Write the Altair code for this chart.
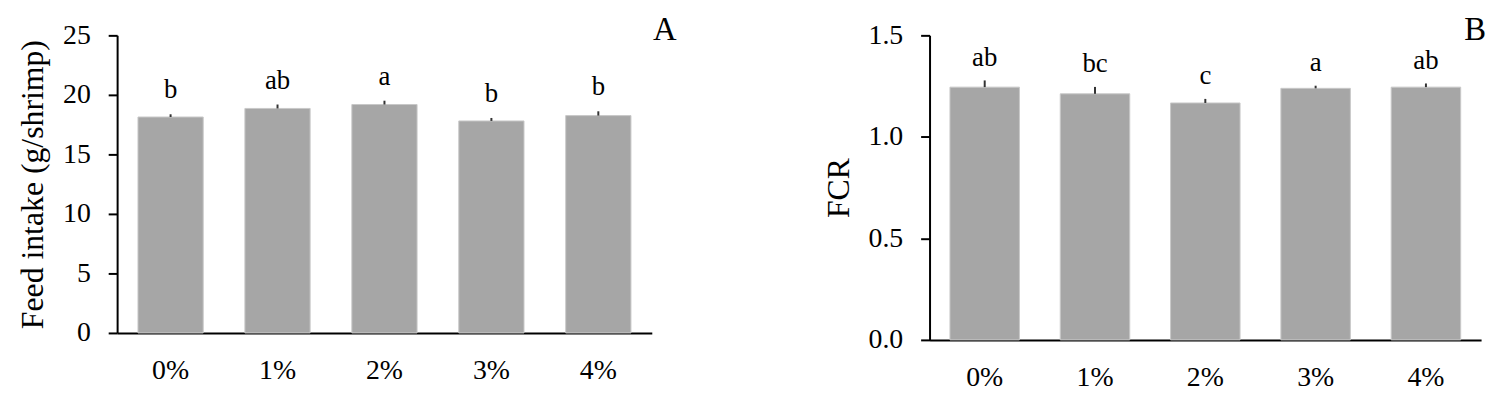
import altair as alt
import pandas as pd

levels = ["0%", "1%", "2%", "3%", "4%"]

feed_mean = [18.14, 18.86, 19.19, 17.81, 18.26]
feed_err = [0.23, 0.33, 0.32, 0.25, 0.36]
feed_sig = ["b", "ab", "a", "b", "b"]

fcr_mean = [1.245, 1.212, 1.167, 1.239, 1.245]
fcr_err = [0.033, 0.034, 0.020, 0.013, 0.018]
fcr_sig = ["ab", "bc", "c", "a", "ab"]

panel_tags = ["A", "B"]

FONT = "Palatino Linotype, Book Antiqua, Liberation Serif, serif"


def make_df(means, errs, sigs):
    return pd.DataFrame({
        "level": levels,
        "mean": means,
        "top": [m + e for m, e in zip(means, errs)],
        "sig": sigs,
    })


def panel(df, ytitle, domain, ticks, fmt, w, h, tag, tag_x, tag_y, dy, pad_inner):
    x = alt.X(
        "level:N", sort=levels,
        scale=alt.Scale(paddingInner=pad_inner, paddingOuter=pad_inner / 2),
        axis=alt.Axis(title=None, labelAngle=0, ticks=False, labelPadding=24),
    )
    yscale = alt.Scale(domain=domain, nice=False, zero=True)
    base = alt.Chart(df).encode(x=x)
    bars = base.mark_bar(color="#A6A6A6", stroke="#C8C8C8", strokeWidth=1).encode(
        y=alt.Y("mean:Q", scale=yscale,
                axis=alt.Axis(values=ticks, format=fmt, title=ytitle, grid=False,
                              labelPadding=18, titlePadding=13))
    )
    err = base.mark_rule(color="#333333", strokeWidth=2).encode(
        y=alt.Y("mean:Q", scale=yscale), y2="top:Q"
    )
    txt = base.mark_text(baseline="alphabetic", dy=dy, font=FONT, fontSize=27,
                         color="black").encode(
        y=alt.Y("top:Q", scale=yscale), text="sig:N"
    )
    tag_chart = alt.Chart(pd.DataFrame({"t": [tag]})).mark_text(
        font=FONT, fontSize=33, baseline="middle", align="center", color="black"
    ).encode(x=alt.value(tag_x), y=alt.value(tag_y), text="t:N")
    return alt.layer(bars, err, txt, tag_chart).properties(width=w, height=h)


left = panel(make_df(feed_mean, feed_err, feed_sig), "Feed intake (g/shrimp)",
             [0, 25], [0, 5, 10, 15, 20, 25], "d", 539, 300,
             panel_tags[0], 552, -5, -16, 0.39)
right = panel(make_df(fcr_mean, fcr_err, fcr_sig), "FCR",
              [0, 1.5], [0, 0.5, 1.0, 1.5], ".1f", 556, 307,
              panel_tags[1], 550, -5, -15, 0.37)

chart = alt.hconcat(left, right).properties(
    padding={"left": 8, "top": 5, "right": 5, "bottom": 5}
).configure_view(stroke=None).configure_axis(
    labelFont=FONT, titleFont=FONT, labelFontSize=28, titleFontSize=32,
    labelColor="black", titleColor="black", titleFontWeight="normal",
    domainColor="black", domainWidth=2, tickColor="black", tickWidth=2, tickSize=9,
).configure_concat(spacing=147)

chart.save("out.html", embed_options={"renderer": "svg", "actions": False})
